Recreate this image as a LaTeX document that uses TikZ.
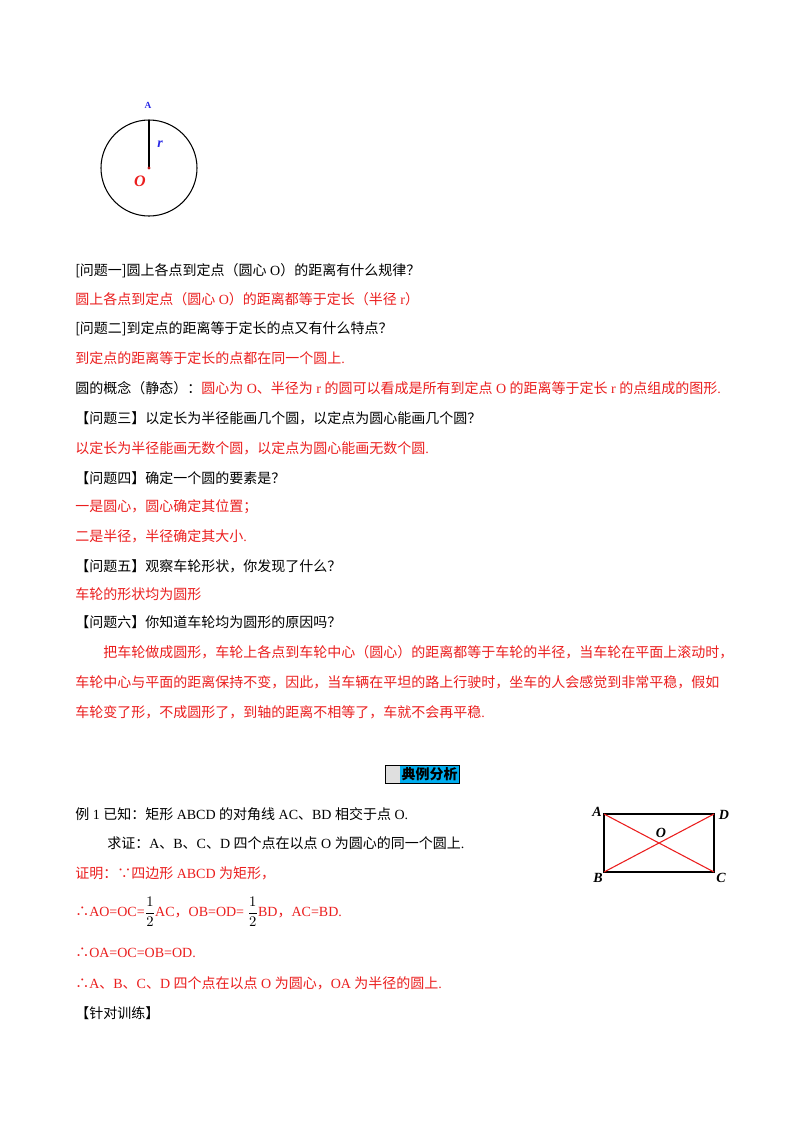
\documentclass[tikz,border=0pt]{standalone}
\usepackage{fontspec}
\setmainfont{Noto Sans CJK SC}
\newfontfamily\lat{Liberation Serif}
\definecolor{myred}{RGB}{235,30,30}
\definecolor{myblue}{RGB}{40,40,230}
\newcommand{\Lt}[1]{{\lat #1}}
\begin{document}
\begin{tikzpicture}[x=0.75pt,y=-0.75pt,
  t/.style={anchor=west,inner sep=0pt,font=\fontsize{10.5}{12}\selectfont,text=black},
  r/.style={t,text=myred},
  lbl/.style={inner sep=0pt,font=\lat\bfseries\itshape\fontsize{10.5}{12}\selectfont}]
\useasboundingbox[fill=white] (0,0) rectangle (800,1132);
% circle
\node[circle,draw,line width=0.8pt,minimum size=96*0.75pt,inner sep=0pt] (c) at (149,168) {};
\coordinate (ctr) at (149,168);
\coordinate (top) at (149,120);
\draw[line width=0.8pt] (ctr) -- (top);
\fill[myred!80!black] (ctr) circle (1.6);
\node[lbl,text=myblue,font=\lat\bfseries\fontsize{7}{8}\selectfont] (la) at (148,105) {A};
\node[lbl,text=myblue] (lr) at (160,144) {r};
\node[lbl,text=myred,font=\lat\bfseries\itshape\fontsize{12}{14}\selectfont] (lo) at (140,181) {O};
% text lines
\node[t] (l1) at (75,271) {[问题一]圆上各点到定点（圆心\Lt{ O}）的距离有什么规律？};
\node[r] (l2) at (75,299) {圆上各点到定点（圆心\Lt{ O}）的距离都等于定长（半径\Lt{ r}）};
\node[t] (l3) at (75,329) {[问题二]到定点的距离等于定长的点又有什么特点？};
\node[r] (l4) at (75,358) {到定点的距离等于定长的点都在同一个圆上\Lt{.}};
\node[t] (l5) at (75,388) {圆的概念（静态）：\textcolor{myred}{圆心为\Lt{ O}、半径为\Lt{ r }的圆可以看成是所有到定点\Lt{ O }的距离等于定长\Lt{ r }的点组成的图形\Lt{.}}};
\node[t] (l6) at (75,418) {【问题三】以定长为半径能画几个圆，以定点为圆心能画几个圆？};
\node[r] (l7) at (75,448) {以定长为半径能画无数个圆，以定点为圆心能画无数个圆\Lt{.}};
\node[t] (l8) at (75,478) {【问题四】确定一个圆的要素是？};
\node[r] (l9) at (75,507) {一是圆心，圆心确定其位置；};
\node[r] (l10) at (75,536) {二是半径，半径确定其大小\Lt{.}};
\node[t] (l11) at (75,566) {【问题五】观察车轮形状，你发现了什么？};
\node[r] (l12) at (75,594) {车轮的形状均为圆形};
\node[t] (l13) at (75,622) {【问题六】你知道车轮均为圆形的原因吗？};
\node[r] (l14) at (103,652) {把车轮做成圆形，车轮上各点到车轮中心（圆心）的距离都等于车轮的半径，当车轮在平面上滚动时，};
\node[r] (l15) at (75,682) {车轮中心与平面的距离保持不变，因此，当车辆在平坦的路上行驶时，坐车的人会感觉到非常平稳，假如};
\node[r] (l16) at (75,712) {车轮变了形，不成圆形了，到轴的距离不相等了，车就不会再平稳\Lt{.}};
% heading
\fill[gray!25] (385,765) rectangle (400,783);
\node[fill=cyan,anchor=west,inner sep=1pt,minimum height=18*0.75pt,font=\bfseries\fontsize{10.5}{12}\selectfont] (hd) at (400,774) {典例分析};
\draw[line width=0.4pt] (385,765) rectangle (hd.south east);
% example
\node[t] (e1) at (75,814) {例\Lt{ 1 }已知：矩形\Lt{ ABCD }的对角线\Lt{ AC}、\Lt{BD }相交于点\Lt{ O.}};
\node[t] (e2) at (107,843) {求证：\Lt{A}、\Lt{B}、\Lt{C}、\Lt{D }四个点在以点\Lt{ O }为圆心的同一个圆上\Lt{.}};
\node[r] (e3) at (75,873) {证明：∵四边形\Lt{ ABCD }为矩形，};
\node[r] (e4) at (75,912) {∴\Lt{AO=OC=}\textcolor{black}{$\displaystyle\frac{1}{2}$}\Lt{AC}，\Lt{OB=OD= }\textcolor{black}{$\displaystyle\frac{1}{2}$}\Lt{BD}，\Lt{AC=BD.}};
\node[r] (e5) at (75,953) {∴\Lt{OA=OC=OB=OD.}};
\node[r] (e6) at (75,983) {∴\Lt{A}、\Lt{B}、\Lt{C}、\Lt{D }四个点在以点\Lt{ O }为圆心，\Lt{OA }为半径的圆上\Lt{.}};
\node[t] (e7) at (75,1013) {【针对训练】};
% rectangle
\coordinate (A) at (604,814); \coordinate (D) at (714,814);
\coordinate (B) at (604,872); \coordinate (C) at (714,872);
\draw[line width=0.9pt] (A) -- (D) -- (C) -- (B) -- cycle;
\draw[myred,line width=0.8pt] (A) -- (C) (B) -- (D);
\node[lbl] (nA) at (597,812) {A};
\node[lbl] (nD) at (724,815) {D};
\node[lbl] (nB) at (598,878) {B};
\node[lbl] (nC) at (721,878) {C};
\node[lbl] (nO) at (661,833) {O};
\end{tikzpicture}
\end{document}
